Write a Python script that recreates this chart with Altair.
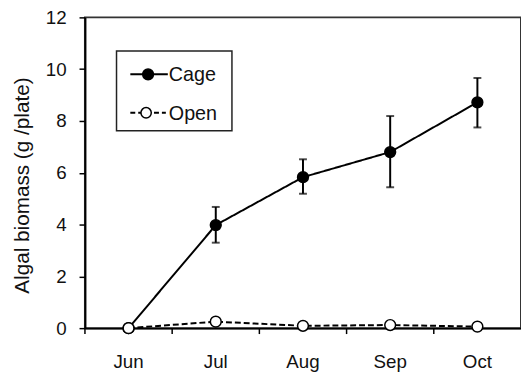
import altair as alt
import pandas as pd

months = ["Jun", "Jul", "Aug", "Sep", "Oct"]
series_names = ["Cage", "Open"]
cage_mean = [0.0, 3.98, 5.83, 6.80, 8.72]
cage_upper = [None, 4.68, 6.52, 8.19, 9.66]
cage_lower = [None, 3.30, 5.19, 5.44, 7.75]
open_mean = [0.0, 0.25, 0.09, 0.12, 0.06]
y_ticks = [0, 2, 4, 6, 8, 10, 12]
y_title = "Algal biomass (g /plate)"

rows = []
for i, m in enumerate(months):
    rows.append(dict(month=m, series="Cage", value=cage_mean[i],
                     lo=cage_lower[i], hi=cage_upper[i], fillc="black"))
for i, m in enumerate(months):
    rows.append(dict(month=m, series="Open", value=open_mean[i],
                     lo=None, hi=None, fillc="white"))
df = pd.DataFrame(rows)

FONT = "Liberation Sans"
W, H = 442, 315

xscale = alt.Scale(type="band", domain=months, paddingInner=0, paddingOuter=0)


def xenc():
    return alt.X("month:N", sort=months, scale=xscale,
                 axis=alt.Axis(title=None, labelAngle=0, ticks=False))


def yenc(field):
    return alt.Y(field + ":Q", title=y_title,
                 scale=alt.Scale(domain=[0, 12], nice=False, zero=True),
                 axis=alt.Axis(values=y_ticks, titleY=170))


base = alt.Chart(df)

# x-axis ticks at the band boundaries (between months)
xticks = alt.Chart(pd.DataFrame({"month": months})).mark_rule(
    color="black", strokeWidth=1.5).encode(
    x=alt.X("month:N", sort=months, scale=xscale, bandPosition=0,
            axis=alt.Axis(title=None, labelAngle=0, ticks=False)),
    y=alt.value(H), y2=alt.value(H + 6),
)

lines = base.mark_line(color="black", strokeWidth=2).encode(
    x=xenc(), y=yenc("value"),
    strokeDash=alt.StrokeDash("series:N",
                              scale=alt.Scale(domain=series_names, range=[[1, 0], [6, 3]]),
                              legend=None),
)

err = base.transform_filter("datum.series === 'Cage' && isValid(datum.lo)")
rules = err.mark_rule(color="black", strokeWidth=2).encode(
    x=xenc(), y=yenc("lo"), y2="hi:Q")
cap_hi = err.mark_tick(color="black", thickness=2, size=8).encode(x=xenc(), y=yenc("hi"))
cap_lo = err.mark_tick(color="black", thickness=2, size=8).encode(x=xenc(), y=yenc("lo"))

pts = base.mark_point(shape="circle", filled=True, size=120, stroke="black",
                      strokeWidth=1.5, opacity=1).encode(
    x=xenc(), y=yenc("value"),
    fill=alt.Fill("fillc:N", scale=None),
)

# ---- legend (drawn as marks inside the plot, top-left) ----
leg_df = pd.DataFrame({"series": series_names})
leg = alt.Chart(leg_df)
row_y = {series_names[0]: 57.7, series_names[1]: 96.7}


def only(name):
    return leg.transform_filter(f"datum.series === '{name}'")


leg_box = only(series_names[0]).mark_rect(
    fill="white", stroke="#222", strokeWidth=1.5).encode(
    x=alt.value(32), x2=alt.value(149), y=alt.value(34), y2=alt.value(115))

leg_line_cage = only("Cage").mark_rule(color="black", strokeWidth=2).encode(
    x=alt.value(46), x2=alt.value(84), y=alt.value(row_y["Cage"]))
leg_line_open = only("Open").mark_rule(color="black", strokeWidth=2,
                                       strokeDash=[5, 3]).encode(
    x=alt.value(46), x2=alt.value(82), y=alt.value(row_y["Open"]))
leg_pt_cage = only("Cage").mark_point(shape="circle", filled=True, size=120,
                                      fill="black", stroke="black",
                                      strokeWidth=1.5, opacity=1).encode(
    x=alt.value(64), y=alt.value(row_y["Cage"]))
leg_pt_open = only("Open").mark_point(shape="circle", filled=True, size=110,
                                      fill="white", stroke="black",
                                      strokeWidth=1.5, opacity=1).encode(
    x=alt.value(62), y=alt.value(row_y["Open"]))
leg_txt_cage = only("Cage").mark_text(align="left", baseline="middle", font=FONT,
                                      fontSize=20, color="#111").encode(
    x=alt.value(85), y=alt.value(row_y["Cage"] + 1), text="series:N")
leg_txt_open = only("Open").mark_text(align="left", baseline="middle", font=FONT,
                                      fontSize=20, color="#111").encode(
    x=alt.value(85), y=alt.value(row_y["Open"] + 1), text="series:N")

chart = alt.layer(
    lines, rules, cap_hi, cap_lo, pts, xticks,
    leg_box, leg_line_cage, leg_line_open, leg_pt_cage, leg_pt_open,
    leg_txt_cage, leg_txt_open,
).properties(
    width=W, height=H,
    autosize=alt.AutoSizeParams(type="none"),
    padding={"left": 78, "top": 7, "right": 0, "bottom": 46},
).configure_view(
    stroke="#333", strokeWidth=2
).configure_axis(
    grid=False, domainColor="black", domainWidth=2, tickColor="black",
    tickWidth=1.5, tickSize=6, labelFont=FONT, labelFontSize=19, labelColor="#111",
    titleFont=FONT, titleFontSize=21, titleColor="#111", titleFontWeight="normal",
).configure_axisX(
    labelPadding=25
).configure_axisY(
    labelPadding=13, titlePadding=13
)

chart.save("out.html", embed_options={"renderer": "svg", "actions": False})
